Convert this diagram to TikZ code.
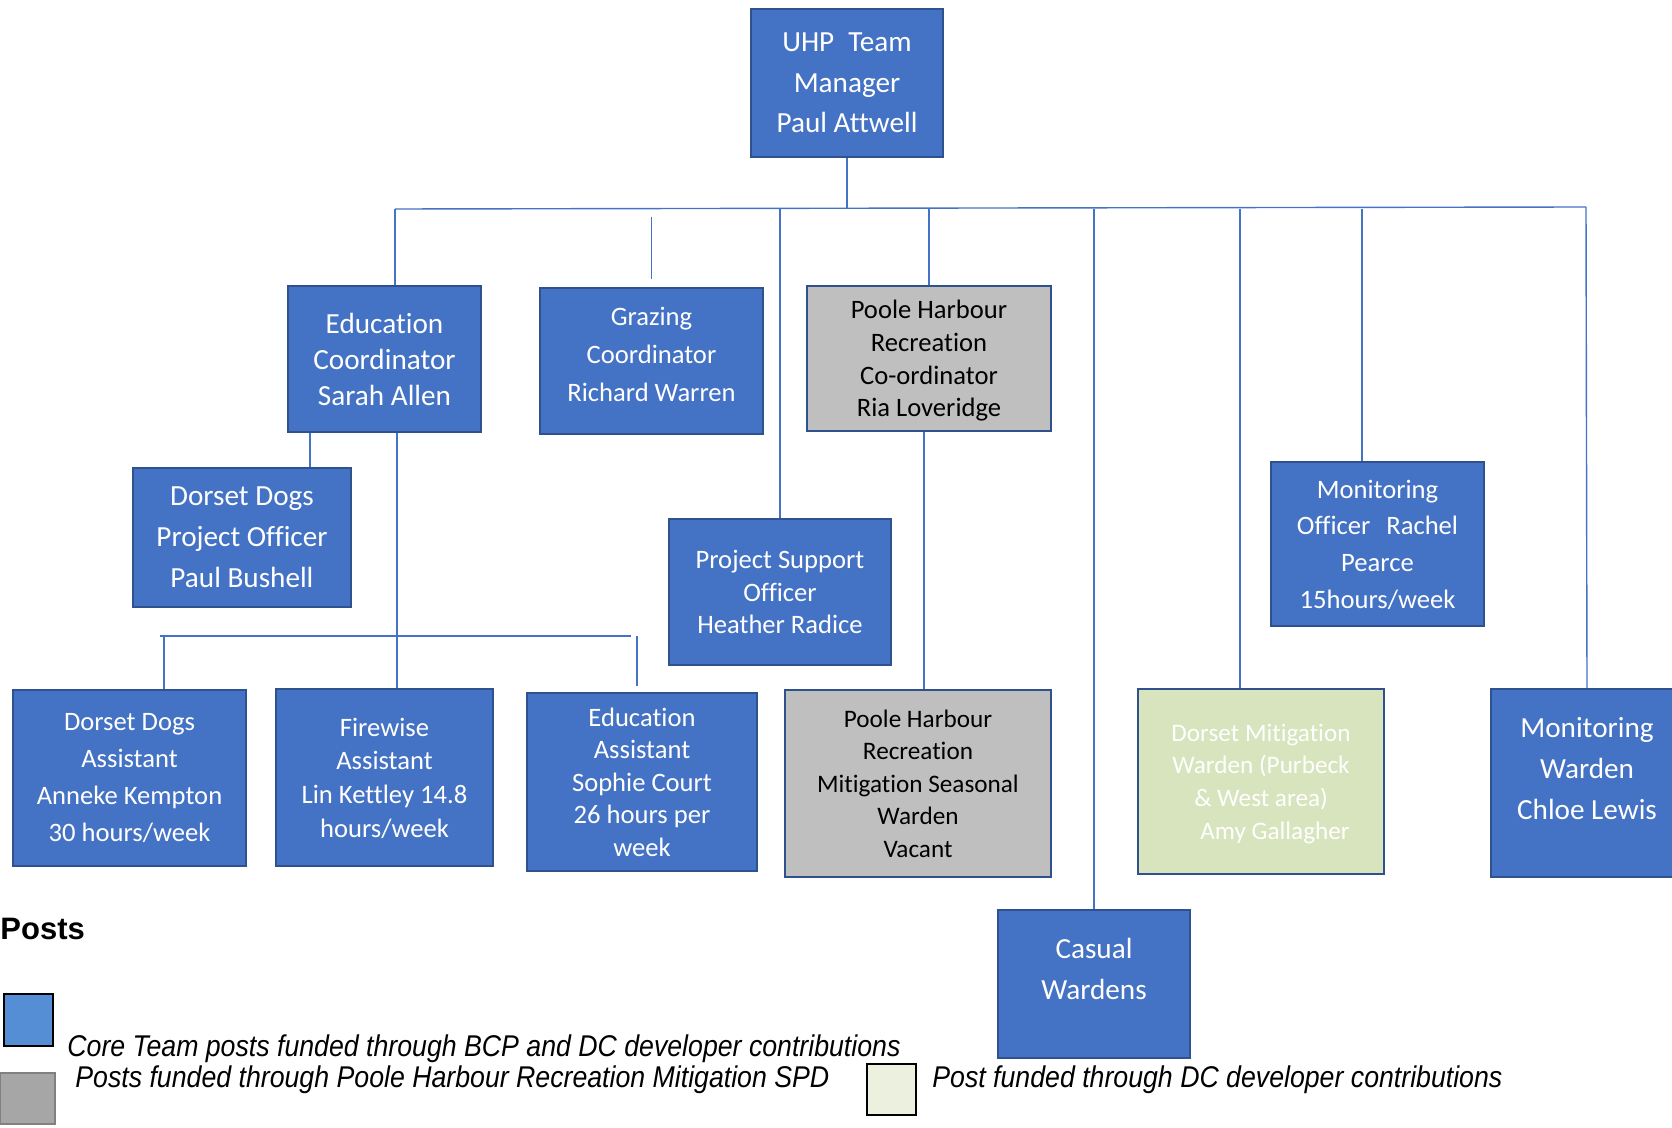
\documentclass[tikz,border=0pt]{standalone}
\usepackage{fontspec}
\setmainfont[Ligatures=NoCommon]{Carlito}
\newfontfamily\legendfont[FakeStretch=0.89]{Liberation Sans}
\newfontfamily\headfont{Liberation Sans}
\definecolor{postblue}{HTML}{4472C4}
\definecolor{edgeblue}{HTML}{2F528F}
\definecolor{spdgrey}{HTML}{BFBFBF}
\definecolor{dcgreen}{HTML}{D7E4BD}
\definecolor{keyblue}{HTML}{558ED5}
\definecolor{keygrey}{HTML}{A6A6A6}
\definecolor{keygreen}{HTML}{EBF1DE}
\newcommand{\fs}[2]{\fontsize{#1}{#2}\selectfont}

\begin{document}
\begin{tikzpicture}[x=0.5pt,y=-0.5pt,
  post/.style={draw=edgeblue, line width=1.2pt, fill=postblue, text=white, align=center, inner sep=0pt},
  spd/.style={post, fill=spdgrey, text=black},
  dcpost/.style={post, fill=dcgreen},
  link/.style={draw=postblue, line width=0.7pt},
  key/.style={draw=black, line width=1pt, inner sep=0pt}]
\useasboundingbox (0,0) rectangle (1672,1128);

% posts
\node[post, minimum width=96pt, minimum height=74pt, font=\fs{14.6}{20.3}] (uhp) at (847,83) {UHP\hspace{7pt}Team\\Manager\\Paul Attwell};
	\node[post, minimum width=96.5pt, minimum height=73pt, font=\fs{14.6}{18}] (edu) at (384.5,359) {Education\\Coordinator\\Sarah Allen};
	\node[post, minimum width=111.5pt, minimum height=73pt, font=\fs{13.3}{19}, text depth=7pt] (graz) at (651.5,361) {Grazing\\Coordinator\\Richard Warren};
	\node[spd, minimum width=122pt, minimum height=72.5pt, font=\fs{13.3}{16.3}, text depth=-3.2pt] (phrc) at (929,358.5) {Poole Harbour\\Recreation\\Co-ordinator\\Ria Loveridge};
		\node[post, minimum width=109pt, minimum height=69.5pt, font=\fs{14.6}{20.5}, text depth=-4pt] (ddpo) at (242,537.5) {Dorset Dogs\\Project Officer\\Paul Bushell};
		\node[post, minimum width=111pt, minimum height=73pt, font=\fs{13.3}{16.25}, text depth=-2pt] (pso) at (780,592) {Project Support\\Officer\\Heather Radice};
		\node[post, minimum width=106.5pt, minimum height=82pt, font=\fs{13.3}{18.3}, text depth=-2.5pt] (monoff) at (1377.5,544) {Monitoring\\Officer\hspace{8pt}Rachel\\Pearce\\15hours/week};
			\node[post, minimum width=116.5pt, minimum height=88pt, font=\fs{13.3}{18.5}] (dda) at (129.5,778) {Dorset Dogs\\Assistant\\Anneke Kempton\\30 hours/week};
			\node[post, minimum width=108.5pt, minimum height=88.5pt, font=\fs{13.3}{16.8}, text depth=0pt] (fire) at (384.5,777.5) {Firewise\\Assistant\\Lin Kettley 14.8\\hours/week};
			\node[post, minimum width=115pt, minimum height=89pt, font=\fs{13.3}{16.25}, text depth=-5pt] (eduass) at (642,782) {Education\\Assistant\\Sophie Court\\26 hours per\\week};
			\node[spd, minimum width=133pt, minimum height=93.5pt, font=\fs{12.6}{16.25}, text depth=-2pt] (phsw) at (918,783.5) {Poole Harbour\\Recreation\\Mitigation Seasonal\\Warden\\Vacant};
			\node[dcpost, minimum width=123pt, minimum height=92.5pt, font=\fs{12.6}{16.3}, text depth=-2.4pt] (dmw) at (1261,781.5) {Dorset Mitigation\\Warden (Purbeck\\\& West area)\\\hspace*{14pt}Amy Gallagher};
			\node[post, minimum width=96pt, minimum height=94pt, font=\fs{14.6}{20.5}, text depth=15pt] (monw) at (1587,783) {Monitoring\\Warden\\Chloe Lewis};
				\node[post, minimum width=96pt, minimum height=74pt, font=\fs{14.6}{20.5}, text depth=15pt] (casual) at (1094,984) {Casual\\Wardens};

% lines from the manager
\coordinate (busL) at (395,209);
\coordinate (busR) at (1586,207);
\draw[link] (uhp.south) -- (uhp.south |- busL);
\draw[link] (busL) -- (busR);
\draw[link] (busL) -- (busL |- edu.north);
\draw[link, shorten <=4pt, shorten >=4pt] (graz.north |- busL) -- (graz.north);
\draw[link] (pso.north |- busL) -- (pso.north);
\draw[link] (phrc.north |- busL) -- (phrc.north);
\draw[link] (casual.north |- busL) -- (casual.north);
\coordinate (dmwtop) at ([xshift=-10.5pt]dmw.north);
\draw[link] (dmwtop |- busL) -- (dmwtop);
\coordinate (montop) at ([xshift=-7.75pt]monoff.north);
\draw[link] (montop |- busL) -- (montop);
\draw[link] (busR) -- (monw.north);

% lines under the coordinators
\coordinate (ddpoup) at ([xshift=-37.25pt]edu.south);
\draw[link] (ddpoup) -- (ddpoup |- ddpo.north);
\coordinate (fireup) at ([xshift=6.25pt]edu.south);
\draw[link] (fireup) -- (fireup |- fire.north);
\coordinate (subL) at (160,636);
\coordinate (subR) at (631,636);
\draw[link] (subL) -- (subR);
\coordinate (ddatop) at ([xshift=17.25pt]dda.north);
\draw[link] (ddatop |- subL) -- (ddatop);
\coordinate (eduatop) at ([xshift=-2.5pt]eduass.north);
\draw[link, shorten >=3pt] (eduatop |- subR) -- (eduatop);
\coordinate (phrcdown) at ([xshift=-2.5pt]phrc.south);
\draw[link] (phrcdown) -- (phrcdown |- phsw.north);

% legend
\node[anchor=west, inner sep=0pt, font=\headfont\bfseries\fs{15.5}{18}] (posts) at (0,929) {Posts};
\node[key, fill=keyblue, minimum width=24.5pt, minimum height=26pt] (keycore) at (28.5,1020) {};
\node[key, draw=gray, fill=keygrey, minimum width=27.5pt, minimum height=25.5pt] (keyspd) at (27.5,1098.5) {};
\node[key, fill=keygreen, minimum width=24.5pt, minimum height=25.5pt] (keydc) at (891.5,1089.5) {};
\node[anchor=west, inner sep=0pt, font=\legendfont\itshape\fs{15}{18}] (txtcore) at (67,1049) {Core Team posts funded through BCP and DC developer contributions};
\node[anchor=west, inner sep=0pt, font=\legendfont\itshape\fs{15}{18}] (txtspd) at (75,1080) {Posts funded through Poole Harbour Recreation Mitigation SPD};
\node[anchor=west, inner sep=0pt, font=\legendfont\itshape\fs{15}{18}] (txtdc) at (932,1080) {Post funded through DC developer contributions};
\end{tikzpicture}
\end{document}
